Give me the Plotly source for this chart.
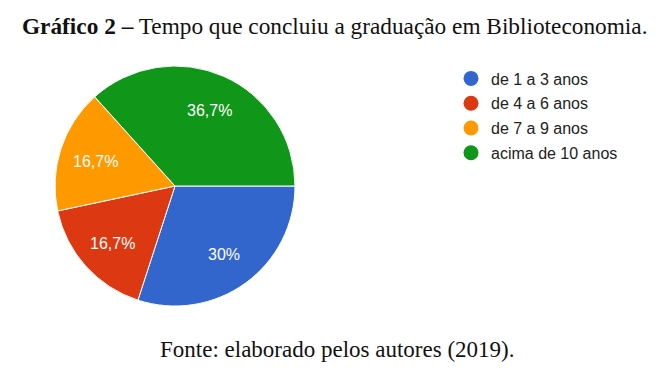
import math
import plotly.graph_objects as go

categories = ["de 1 a 3 anos", "de 4 a 6 anos", "de 7 a 9 anos", "acima de 10 anos"]
counts = [9, 5, 5, 11]
pct_labels = ["30%", "16,7%", "16,7%", "36,7%"]
colors = ["#3366CC", "#DC3912", "#FF9900", "#109618"]

# figure fits inside the page's default 8px body margin
OFF = 8
W, H = 669 - 2 * OFF, 377 - 2 * OFF

def px(x):
    return (x - OFF) / W

def py(y):
    return 1 - (y - OFF) / H

# pie geometry (page pixels)
CX, CY, R = 175, 186, 120
ROT = 90  # first slice starts at 3 o'clock

fig = go.Figure()
fig.add_trace(go.Pie(
    labels=categories, values=counts,
    textinfo="none",
    marker=dict(colors=colors, line=dict(color="white", width=1)),
    sort=False, direction="clockwise", rotation=ROT,
    showlegend=False, hoverinfo="label+percent",
    domain=dict(x=[px(CX - R), px(CX + R)], y=[py(CY + R), py(CY - R)]),
))
for i, (c, col) in enumerate(zip(categories, colors)):
    fig.add_trace(go.Scatter(
        x=[None], y=[None], mode="markers", name=c, legendgroup=str(i),
        marker=dict(symbol="circle", size=15, color=col),
        showlegend=True,
    ))

# slice labels placed at the middle angle of each slice
total = sum(counts)
annotations = []
cum = 0
for v, t in zip(counts, pct_labels):
    mid = ROT + 360 * (cum + v / 2) / total
    cum += v
    a = math.radians(mid)
    rl = 0.70 * R
    lx = CX + rl * math.sin(a)
    ly = CY - rl * math.cos(a) + 1
    annotations.append(dict(
        text=t, x=px(lx), y=py(ly), xref="paper", yref="paper", showarrow=False,
        xanchor="center", yanchor="middle",
        font=dict(family="Liberation Sans, Arial", size=16, color="white")))

annotations += [
    dict(text="<b>Gráfico 2 –</b> Tempo que concluiu a graduação em Biblioteconomia.",
         x=px(335), y=py(26), xref="paper", yref="paper", showarrow=False,
         xanchor="center", yanchor="middle",
         font=dict(family="Liberation Serif, Times New Roman", size=23.3, color="#111111")),
    dict(text="Fonte: elaborado pelos autores (2019).",
         x=px(337), y=py(349), xref="paper", yref="paper", showarrow=False,
         xanchor="center", yanchor="middle",
         font=dict(family="Liberation Serif, Times New Roman", size=23, color="#111111")),
]

fig.update_layout(
    width=W, height=H,
    margin=dict(l=0, r=0, t=0, b=0),
    paper_bgcolor="white", plot_bgcolor="white",
    xaxis=dict(visible=False), yaxis=dict(visible=False),
    legend=dict(x=px(451), y=py(61.5), xanchor="left", yanchor="top",
                font=dict(family="Liberation Sans, Arial", size=16, color="#222222"),
                tracegroupgap=1, itemwidth=30, bgcolor="rgba(0,0,0,0)"),
    annotations=annotations,
)
fig.write_html("out.html")
